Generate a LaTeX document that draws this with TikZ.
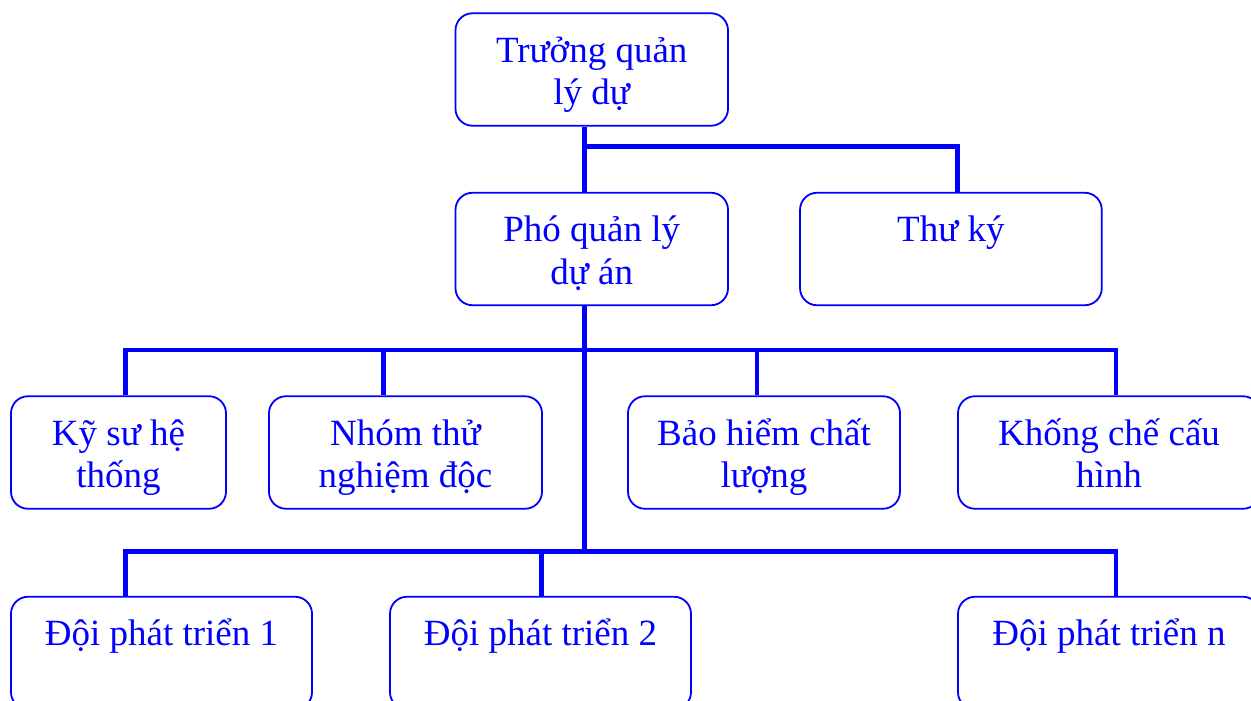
\documentclass[tikz,border=0pt]{standalone}
\usepackage{fontspec}
\setmainfont{Liberation Serif}
\definecolor{ink}{RGB}{0,0,255}
% centred block of lines whose reference point is the first baseline
\newcommand{\lines}[1]{\begin{tabular}[t]{@{}c@{}}#1\end{tabular}}
\begin{document}
\begin{tikzpicture}[x=1pt,y=-1pt,
  box/.style={draw=ink, line width=1.8pt, rounded corners=17pt,
    inner sep=0pt, minimum width=#1, minimum height=112.5pt},
  lbl/.style={inner sep=0pt, anchor=base, text=ink,
    font=\fontsize{37}{42.6}\selectfont},
  conn/.style={draw=ink, line width=4.5pt, line join=miter}]
\useasboundingbox (0,0) rectangle (1251,701);
\clip (0,0) rectangle (1251,701);

% boxes
\node[box=272.5pt] (b1) at (591.75,69.5) {};
\node[box=272.5pt] (b2) at (591.75,249) {};
\node[box=301.7pt] (b3) at (950.9,249) {};
\node[box=215pt]   (k1) at (118.5,452.5) {};
\node[box=273pt]   (k2) at (405.5,452.5) {};
\node[box=272pt]   (k3) at (764,452.5) {};
\node[box=302pt]   (k4) at (1109,452.5) {};
\node[box=301pt]   (d1) at (161.5,653) {};
\node[box=301pt]   (d2) at (540.5,653) {};
\node[box=302pt]   (dn) at (1109,653) {};

% labels, first baseline a fixed distance below each box top
\node[lbl] (t1) at ([yshift=-50pt]b1.north) {\lines{Trưởng quản\\lý dự}};
\node[lbl] (t2) at ([yshift=-50pt]b2.north) {\lines{Phó quản lý\\dự án}};
\node[lbl] (t3) at ([yshift=-50pt]b3.north) {\lines{Thư ký}};
\node[lbl] (u1) at ([yshift=-50pt]k1.north) {\lines{Kỹ sư hệ\\thống}};
\node[lbl] (u2) at ([yshift=-50pt]k2.north) {\lines{Nhóm thử\\nghiệm độc}};
\node[lbl] (u3) at ([yshift=-50pt]k3.north) {\lines{Bảo hiểm chất\\lượng}};
\node[lbl] (u4) at ([yshift=-50pt]k4.north) {\lines{Khống chế cấu\\hình}};
\node[lbl] (v1) at ([yshift=-50pt]d1.north) {\lines{Đội phát triển 1}};
\node[lbl] (v2) at ([yshift=-50pt]d2.north) {\lines{Đội phát triển 2}};
\node[lbl] (vn) at ([yshift=-50pt]dn.north) {\lines{Đội phát triển n}};

% junction points of the connector tree
\coordinate (s0) at (584.5,146.5);
\coordinate (s1) at (957.6,146.5);
\coordinate (m0) at (584.5,350);
\coordinate (m1) at (125.7,350);
\coordinate (m2) at (383.5,350);
\coordinate (m3) at (757,350);
\coordinate (m4) at (1116,350);
\coordinate (n0) at (584.5,551.5);
\coordinate (n1) at (125.7,551.5);
\coordinate (n2) at (541.7,551.5);
\coordinate (n3) at (1116,551.5);

% top level
\draw[conn] (b1.south -| s0) -- (b2.north -| s0);
\draw[conn] (s0) -- (s1) -- (b3.north -| s1);

% trunk below the deputy
\draw[conn] (b2.south -| m0) -- (n0);

% second level bus
\draw[conn] (k1.north -| m1) -- (m1) -- (m4) -- (k4.north -| m4);
\draw[conn] (m2) -- (k2.north -| m2);
\draw[conn] (m3) -- (k3.north -| m3);

% third level bus
\draw[conn] (d1.north -| n1) -- (n1) -- (n3) -- (dn.north -| n3);
\draw[conn] (n2) -- (d2.north -| n2);
\end{tikzpicture}
\end{document}
